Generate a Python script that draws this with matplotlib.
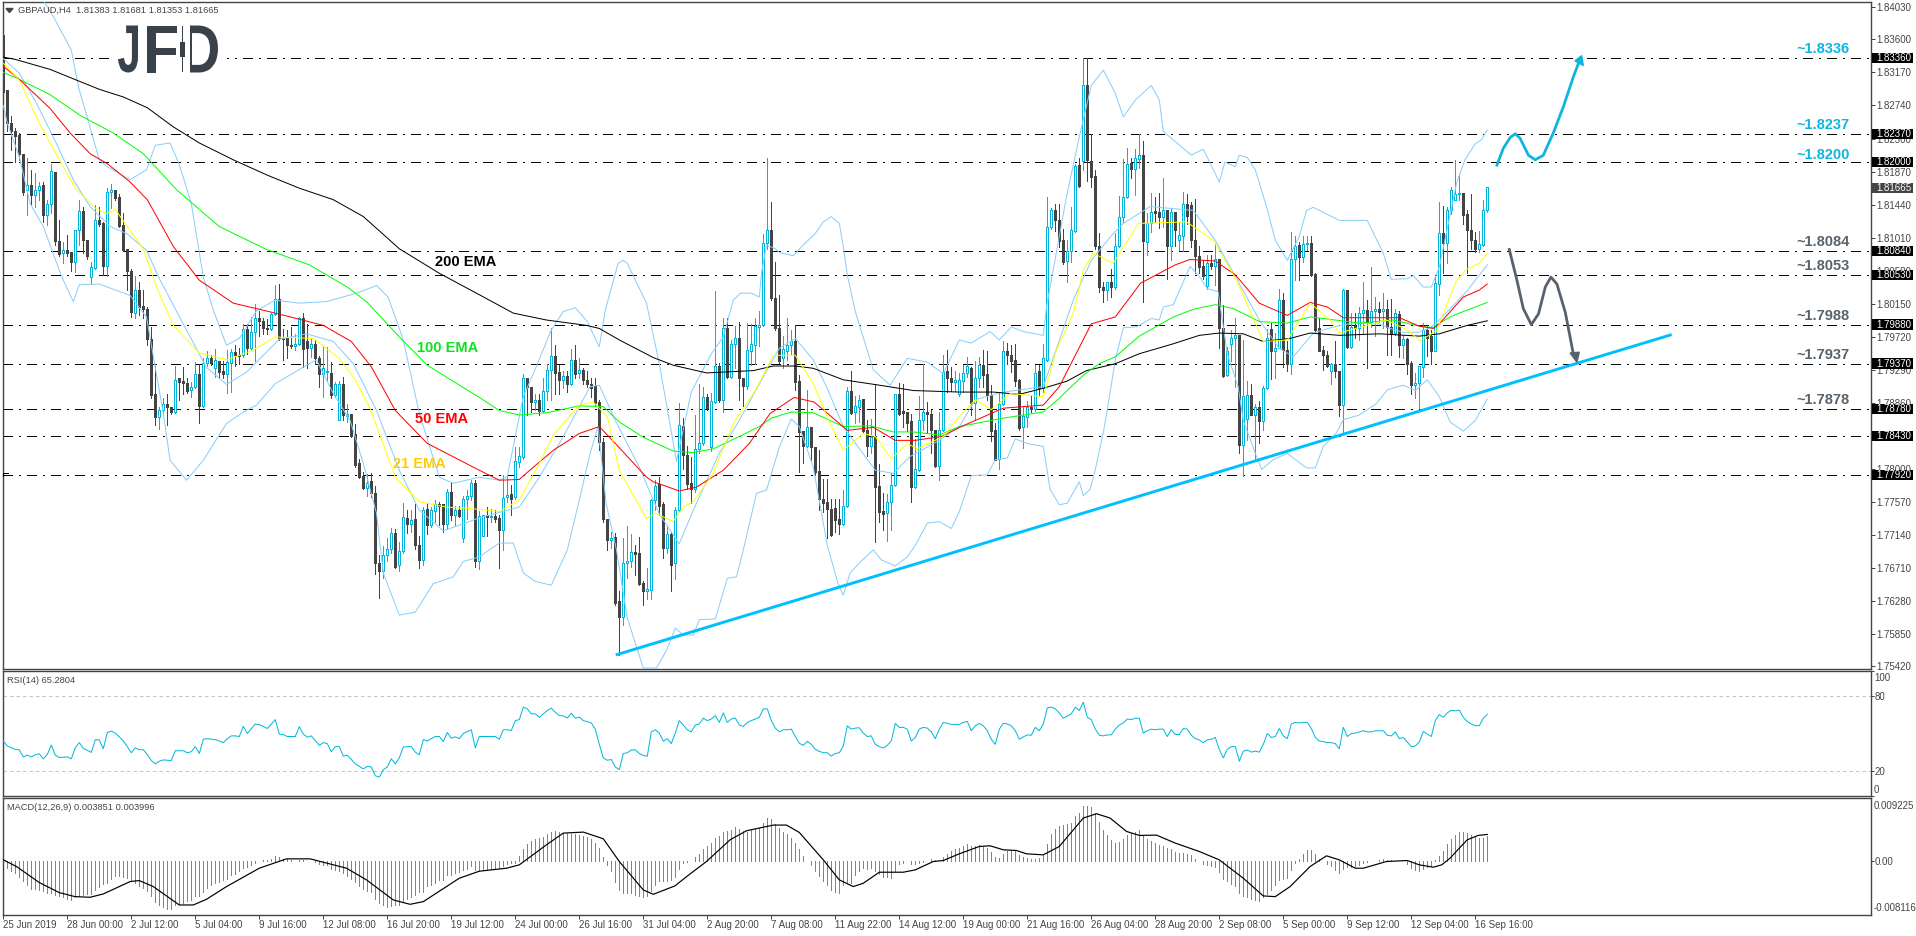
import numpy as np
import matplotlib
matplotlib.use("Agg")
import matplotlib.pyplot as plt
from matplotlib.font_manager import FontProperties
from matplotlib.patches import PathPatch, Polygon, Rectangle
from matplotlib.textpath import TextPath
from matplotlib.transforms import Affine2D

plt.rcParams['font.family'] = ['Liberation Sans', 'DejaVu Sans']

# all prices below are in pips (price * 10000)
opens = [
    18366,18294,18251,18240,18235,18211,18163,18170,18157,18164,
    18170,18131,18146,18187,18097,18081,18085,18083,18070,18111,
    18136,18098,18050,18062,18124,18120,18064,18161,18164,18154,
    18118,18086,18058,18003,18033,18012,18009,17969,17897,17867,
    17877,17884,17881,17874,17918,17914,17912,17903,17906,17923,
    17882,17938,17945,17932,17941,17928,17923,17938,17952,17949,
    17948,17982,17957,17979,17996,17993,17984,17982,18002,18021,
    17970,17970,17962,17960,17963,17996,17967,17957,17963,17945,
    17924,17926,17925,17896,17864,17910,17869,17872,17845,17807,
    17790,17775,17784,17768,17677,17666,17687,17695,17716,17674,
    17692,17736,17728,17734,17700,17681,17747,17726,17745,17754,
    17754,17728,17770,17739,17746,17710,17760,17764,17781,17680,
    17712,17739,17737,17738,17736,17720,17763,17767,17763,17809,
    17815,17919,17906,17887,17890,17875,17901,17929,17947,17926,
    17916,17921,17910,17942,17925,17929,17916,17911,17908,17887,
    17835,17734,17707,17711,17627,17606,17677,17679,17691,17690,
    17651,17640,17642,17759,17780,17754,17697,17715,17677,17746,
    17856,17818,17781,17773,17826,17833,17894,17828,17887,17934,
    17889,17983,17920,17963,17970,17919,17908,17954,17962,17985,
    17987,18094,18112,18023,17983,17944,17954,17961,17967,17914,
    17849,17829,17855,17828,17797,17761,17757,17748,17749,17734,
    17728,17751,17901,17874,17881,17891,17850,17830,17843,17777,
    17745,17742,17757,17779,17897,17875,17874,17862,17776,17798,
    17863,17874,17872,17850,17803,17850,17928,17919,17913,17897,
    17915,17925,17932,17886,17918,17935,17923,17896,17850,17813,
    17885,17953,17949,17942,17916,17854,17868,17881,17878,17927,
    17905,17942,18115,18138,18125,18098,18071,18084,18110,18196,
    18202,18300,18201,18182,18091,18037,18033,18043,18037,18090,
    18128,18154,18199,18191,18204,18209,18096,18121,18136,18135,
    18129,18137,18091,18135,18098,18103,18146,18144,18099,18077,
    18064,18038,18069,18064,18074,17983,17922,17963,17970,17975,
    17831,17865,17896,17870,17881,17862,17905,17982,17954,17958,
    18020,17955,17937,18074,18092,18076,18093,18095,18054,17983,
    17955,17949,17928,17937,17927,17883,18033,17959,17986,17983,
    18003,18007,17992,18006,18009,18006,18009,17985,17977,18002,
    17961,17969,17938,17909,17912,17933,17981,17973,17954,18041,
    18108,18095,18137,18151,18158,18160,18132,18112,18099,18086,
    18092,18138]
highs = [
    18370,18294,18260,18244,18238,18211,18205,18190,18186,18174,
    18174,18150,18197,18187,18124,18096,18105,18083,18111,18151,
    18142,18098,18070,18144,18141,18122,18166,18172,18164,18159,
    18133,18086,18060,18051,18044,18033,18011,17985,17934,17881,
    17892,17897,17881,17934,17919,17933,17918,17913,17939,17936,
    17945,17954,17949,17956,17941,17941,17955,17956,17962,17957,
    17989,17989,17998,18015,18006,17997,17995,18003,18040,18041,
    17982,17981,17985,17976,17998,18003,17989,17970,17968,17947,
    17960,17959,17939,17913,17914,17920,17884,17872,17858,17813,
    17796,17793,17794,17777,17687,17699,17710,17723,17721,17705,
    17755,17746,17746,17754,17712,17750,17755,17750,17759,17757,
    17754,17774,17783,17752,17752,17765,17772,17785,17785,17745,
    17740,17750,17748,17746,17739,17792,17792,17779,17828,17828,
    17924,17919,17906,17897,17898,17919,17937,17984,17962,17935,
    17928,17928,17956,17962,17945,17932,17928,17918,17919,17889,
    17840,17734,17718,17716,17640,17710,17725,17715,17700,17711,
    17653,17670,17761,17785,17789,17756,17725,17718,17750,17886,
    17866,17830,17815,17870,17911,17906,17897,17899,18032,17938,
    17996,17996,17968,17986,17992,17919,17990,17989,17996,18006,
    18106,18205,18148,18070,18026,17973,17997,17981,17988,17922,
    17849,17903,17855,17828,17825,17787,17786,17761,17760,17761,
    17772,17907,17928,17895,17896,17891,17864,17865,17911,17806,
    17768,17767,17795,17898,17912,17911,17874,17871,17839,17895,
    17937,17887,17876,17850,17874,17948,17955,17933,17928,17925,
    17935,17946,17933,17940,17946,17955,17954,17909,17860,17900,
    17966,17964,17961,17963,17917,17880,17888,17895,17935,17935,
    17963,18155,18140,18145,18146,18113,18098,18142,18198,18205,
    18336,18336,18237,18190,18107,18044,18044,18061,18108,18156,
    18204,18218,18205,18217,18237,18227,18133,18160,18155,18160,
    18179,18138,18140,18135,18122,18161,18158,18148,18152,18090,
    18072,18079,18079,18094,18074,18013,17959,17981,17997,17975,
    17968,17914,17911,17884,17888,17908,17982,17990,17977,18035,
    18029,17967,18109,18103,18096,18103,18104,18103,18055,17996,
    17960,17953,17938,17966,17928,18034,18033,18003,18003,18011,
    18044,18020,18063,18024,18018,18029,18020,18022,18009,18006,
    17974,17970,17940,17925,17934,17990,17987,17981,18050,18148,
    18143,18141,18167,18203,18185,18160,18137,18158,18109,18110,
    18151,18168]
lows = [
    18290,18240,18216,18200,18203,18157,18131,18145,18142,18151,
    18122,18118,18133,18092,18077,18068,18077,18058,18056,18092,
    18081,18073,18041,18061,18117,18053,18051,18140,18150,18116,
    18084,18033,17998,17996,18000,17996,17961,17892,17857,17852,
    17870,17857,17871,17873,17889,17898,17899,17894,17905,17859,
    17880,17934,17935,17920,17920,17919,17899,17900,17934,17937,
    17946,17950,17955,17940,17973,17976,17976,17981,18000,17968,
    17942,17945,17957,17955,17961,17933,17931,17946,17937,17907,
    17894,17916,17892,17894,17863,17864,17861,17842,17802,17788,
    17774,17764,17763,17663,17631,17657,17680,17690,17670,17667,
    17690,17716,17718,17695,17670,17675,17715,17724,17730,17726,
    17718,17722,17733,17726,17737,17705,17735,17759,17672,17669,
    17712,17712,17731,17731,17671,17694,17756,17739,17761,17802,
    17813,17870,17874,17876,17870,17874,17889,17889,17898,17897,
    17905,17900,17909,17918,17919,17911,17906,17893,17882,17824,
    17730,17694,17696,17622,17557,17596,17657,17672,17661,17648,
    17622,17630,17630,17746,17740,17683,17690,17640,17656,17744,
    17800,17774,17755,17770,17820,17831,17876,17823,17886,17887,
    17874,17918,17918,17932,17889,17882,17904,17935,17937,17960,
    17986,18086,18020,17981,17938,17932,17942,17950,17903,17796,
    17808,17828,17811,17792,17746,17744,17710,17712,17718,17715,
    17726,17750,17872,17859,17861,17848,17816,17820,17705,17731,
    17720,17706,17720,17778,17870,17855,17849,17757,17775,17797,
    17851,17846,17820,17802,17785,17849,17900,17902,17902,17895,
    17900,17920,17870,17863,17907,17907,17890,17836,17811,17800,
    17883,17937,17926,17908,17850,17827,17855,17874,17875,17896,
    17900,17941,18113,18110,18089,18067,18044,18070,18109,18168,
    18190,18175,18168,18086,18031,18017,18020,18024,18035,18089,
    18120,18153,18179,18157,18192,18017,18079,18109,18122,18114,
    18116,18047,18072,18090,18085,18084,18119,18089,18055,18055,
    18048,18035,18060,18040,17957,17920,17921,17940,17907,17820,
    17791,17837,17870,17812,17833,17851,17904,17917,17918,17957,
    17933,17927,17924,18046,18046,18070,18085,18051,17979,17953,
    17929,17933,17911,17920,17869,17847,17958,17958,17970,17968,
    17977,17932,17985,17973,17992,17983,17948,17948,17974,17946,
    17944,17924,17898,17892,17879,17920,17947,17937,17953,18026,
    18055,18068,18132,18150,18151,18119,18055,18086,18083,18083,
    18090,18135]
closes = [
    18292,18251,18240,18234,18211,18161,18170,18157,18164,18169,
    18131,18145,18188,18097,18080,18085,18082,18070,18111,18136,
    18098,18077,18063,18124,18119,18064,18161,18164,18153,18117,
    18085,18058,18005,18033,18011,18008,17969,17896,17867,17877,
    17884,17881,17874,17916,17913,17912,17902,17906,17923,17882,
    17938,17945,17938,17942,17926,17924,17939,17952,17948,17947,
    17982,17957,17979,17996,17993,17983,17982,18002,18021,17970,
    17969,17961,17960,17963,17997,17956,17957,17963,17945,17923,
    17932,17927,17896,17910,17910,17870,17871,17843,17805,17789,
    17775,17782,17768,17677,17666,17687,17695,17716,17672,17692,
    17737,17728,17733,17700,17681,17746,17726,17746,17754,17751,
    17728,17770,17739,17746,17738,17760,17764,17781,17680,17738,
    17739,17737,17738,17735,17720,17762,17766,17761,17810,17816,
    17919,17907,17887,17889,17875,17901,17929,17947,17925,17916,
    17921,17910,17942,17923,17929,17916,17911,17905,17886,17835,
    17734,17707,17710,17625,17606,17677,17679,17691,17689,17650,
    17640,17643,17759,17777,17752,17697,17715,17675,17746,17857,
    17818,17780,17773,17826,17834,17893,17879,17888,17934,17889,
    17983,17920,17963,17971,17919,17908,17955,17963,17986,17988,
    18094,18112,18023,17983,17940,17956,17962,17967,17913,17848,
    17829,17855,17828,17796,17760,17755,17747,17713,17733,17728,
    17752,17901,17873,17882,17889,17849,17830,17842,17776,17744,
    17741,17757,17779,17897,17871,17873,17859,17776,17799,17864,
    17874,17871,17850,17803,17851,17926,17918,17913,17916,17916,
    17925,17934,17886,17918,17935,17922,17896,17849,17812,17885,
    17954,17948,17941,17915,17853,17869,17880,17878,17925,17905,
    17944,18115,18137,18124,18097,18070,18084,18111,18195,18169,
    18300,18203,18180,18090,18037,18033,18044,18037,18090,18129,
    18154,18198,18191,18205,18209,18097,18121,18135,18134,18129,
    18137,18091,18135,18111,18105,18146,18130,18098,18077,18063,
    18051,18069,18064,18073,17983,17921,17954,17970,17975,17831,
    17895,17896,17870,17880,17862,17905,17970,17954,17958,18020,
    17955,17937,18074,18090,18076,18093,18095,18053,17981,17954,
    17948,17934,17937,17927,17883,18033,17959,17985,17983,18003,
    18007,17992,18006,18009,18005,18009,17985,17977,18003,17961,
    17969,17937,17909,17912,17934,17981,17971,17954,18042,18108,
    18094,18138,18164,18158,18160,18131,18111,18098,18086,18093,
    18138,18167]

# (bar, pips) vertices
ema200 = [(0,18337),(3,18334),(11.7,18321),(18.3,18307),(24,18295),(30,18285),(36,18271),(42.5,18246),(49,18225),
          (57.5,18203),(66,18183),(74,18166),(82.5,18151),(90,18129),(99,18087),(109,18055),(119,18027),(127.5,18003),
          (135.8,17994),(145.8,17987),(149,17983),(154,17968),(162.5,17945),(167.5,17935),(175.8,17925),(187.5,17928),
          (192.5,17934),(198,17934),(202.5,17931),(210,17916),(219,17909),(227.5,17902),(239,17900),(247.5,17900),
          (254,17897),(260,17905),(265.8,17914),(270.8,17928),(278,17937),(284,17950),(292.5,17963),(299,17974),
          (304,17977),(310,17976),(315,17966),(321.7,17970),(326.7,17977),(334,17974),(344,17976),(354,17973),
          (359,17976),(366,17987),(371,17993)]
ema100 = [(0,18317),(4,18308),(11.7,18288),(19.2,18261),(27.5,18238),(35,18211),(43.3,18164),(54,18116),(65.8,18086),
          (76.5,18066),(86,18037),(90.8,18018),(99,17972),(106,17935),(119,17893),(124,17876),(129,17870),(135.8,17873),
          (144,17882),(150,17881),(154,17861),(160,17841),(167.5,17823),(172.5,17821),(177.5,17826),(184,17842),
          (189,17855),(192,17866),(197,17874),(202.5,17873),(210,17855),(216.7,17856),(222.5,17848),(227.5,17848),
          (234,17844),(239,17855),(250,17866),(260,17874),(264,17892),(270,17922),(274,17937),(278,17946),(284,17973),
          (292.5,17998),(297.5,18008),(303,18014),(307.5,18009),(314,17992),(321,17990),(326.7,17998),(333,17994),
          (339,17990),(347.5,17994),(354,17986),(357.5,17984),(359,17990),(362.5,18000),(371,18017)]
ema50 = [(0,18325),(4,18308),(11.7,18270),(16.7,18238),(21.7,18211),(26,18198),(31.7,18174),(36,18151),(42.5,18090),
         (49,18046),(57.5,18016),(68,18003),(80,17987),(87,17966),(92,17933),(98,17876),(106,17833),(119,17798),
         (124,17785),(129,17786),(132.5,17802),(137.5,17824),(144,17846),(149,17855),(153,17833),(160.8,17789),
         (162.5,17783),(169,17771),(173.3,17776),(180,17798),(186.5,17833),(191.7,17872),(197.7,17893),(202.7,17887),
         (207,17868),(211,17850),(217.5,17854),(223,17837),(228,17837),(234.5,17842),(239.5,17855),(250,17879),
         (260,17883),(264,17907),(272,17989),(278,17998),(284.3,18042),(293,18066),(296.7,18073),(303,18071),
         (308,18053),(314,18016),(321,18000),(326.7,18017),(331,18011),(335,17997),(349,17997),(354,17986),
         (357.5,17983),(359,17989),(365,18024),(369,18033),(371,18041)]
ema21 = [(0,18329),(4,18307),(9,18251),(14,18203),(18,18166),(23,18140),(25.8,18133),(28,18138),(35,18087),(38.3,18037),
         (42.5,17987),(49,17951),(56,17942),(62.5,17955),(68,17972),(77.5,17970),(84,17944),(88,17916),(91.7,17879),
         (98,17789),(104,17757),(110.8,17750),(119,17747),(124,17744),(129,17759),(134,17807),(137.5,17844),(144,17883),
         (147.5,17887),(151,17868),(154,17798),(160.8,17735),(163,17742),(167.5,17731),(170,17750),(172.5,17757),
         (177.5,17794),(182.5,17859),(188,17902),(192.5,17948),(198,17948),(202.5,17911),(206.7,17859),(210,17824),
         (215,17846),(218,17842),(222,17813),(226,17833),(228.5,17826),(235,17842),(239,17868),(243,17890),(247,17877),
         (251.7,17898),(260,17894),(263.3,17955),(267.5,18003),(270,18059),(272.5,18081),(277.5,18068),(283.8,18120),
         (295.8,18122),(302.5,18098),(308.3,18046),(315,17966),(321,17968),(326.7,18016),(331.7,17994),(334,17977),
         (336.7,17981),(345.8,17994),(351,17981),(354.2,17967),(358.3,17980),(363.3,18046),(365.8,18060),(369,18068),
         (371,18081)]
bb_upper = [(9,18418),(10,18411),(12.5,18390),(17,18346),(18.8,18298),(24,18203),(26,18194),(31.7,18177),(35.8,18190),
            (38,18222),(41.7,18225),(44,18197),(47,18146),(50,18050),(52.5,18007),(55.8,17961),(59,17970),(63.3,18006),
            (68,18020),(74,18016),(80.8,18018),(88.3,18029),(93.3,18039),(96.2,18024),(100,17968),(104,17872),(109,17789),
            (112.5,17781),(119,17789),(124,17785),(126,17790),(130,17894),(132.5,17924),(137,17981),(140,18005),(143,18010),
            (146,17992),(149,17959),(150.5,18007),(153.7,18068),(155,18072),(156,18068),(158,18046),(160.8,18016),(164,17937),
            (168.3,17810),(172,17900),(177,17950),(180,17972),(182.5,18020),(184.3,18029),(187,18029),(189,18024),
            (189.6,18057),(190.8,18092),(193,18087),(194,18082),(197.5,18078),(200,18092),(203,18107),(205,18122),(207,18129),
            (209,18120),(210,18090),(211,18053),(213,18005),(217.5,17929),(221.7,17909),(226,17944),(231,17939),(235,17924),
            (239,17968),(242,17964),(246.7,17979),(249,17968),(252,17985),(255,17979),(260,17974),(260.8,18011),(265.8,18155),
            (269,18233),(272,18300),(275,18320),(278,18290),(280,18259),(283,18281),(287,18300),(289,18281),(290,18240),
            (292.5,18229),(297,18209),(300,18217),(304,18174),(305.4,18200),(308,18194),(309,18209),(311,18206),(313,18190),
            (315.8,18142),(318,18098),(321,18072),(324,18103),(325.8,18137),(327.5,18141),(334,18124),(341,18124),(345,18081),
            (347,18047),(351,18048),(352.5,18052),(355,18037),(357,18037),(359,18063),(363.3,18172),(365.4,18203),(368,18224),
            (369.5,18229),(371,18242)]
bb_mid = [(0,18335),(4,18316),(8.3,18277),(13.3,18224),(17.5,18177),(21.7,18142),(26.7,18116),(30.8,18107),(35.8,18085),
          (39,18048),(45.8,17981),(50.8,17932),(55.8,17910),(60.8,17926),(69,17969),(75.8,17976),(82.5,17966),(87.5,17937),
          (93.3,17876),(99,17798),(104,17746),(110,17719),(115,17728),(119,17736),(129,17750),(134,17789),(140,17842),
          (146.7,17907),(149,17909),(153,17863),(159,17802),(164,17741),(169,17702),(172.5,17746),(179,17820),(184,17863),
          (190,17920),(194,17957),(198,17970),(202.5,17942),(205.8,17907),(210,17855),(212.5,17837),(218,17798),(222.5,17794),
          (226.7,17816),(234,17837),(239,17855),(243,17890),(250,17900),(260,17907),(267.5,18020),(272,18072),(277.5,18107),
          (280,18120),(286.7,18142),(297.5,18137),(303,18098),(308,18051),(314,17994),(319,17957),(322.5,17946),(327.5,17977),
          (332.5,17985),(337.5,17990),(344,17989),(346.7,17983),(350,17978),(354,17978),(357,17985),(359,17994),(365.8,18031),
          (371,18066)]
bb_lower = [(0,18274),(1,18251),(4,18207),(6.7,18146),(10,18116),(14,18059),(15,18046),(17.5,18018),(19,18040),(24,18041),
            (31.7,18026),(35.8,17998),(40,17872),(41.7,17811),(45.8,17785),(50,17811),(55.8,17859),(60,17874),(63.3,17883),
            (68,17911),(75.8,17935),(78.3,17942),(82.5,17898),(86.7,17863),(90,17807),(93.3,17742),(95,17664),(99,17609),
            (103,17613),(107.5,17650),(112.5,17659),(115,17679),(119,17685),(124,17703),(127.5,17703),(130,17664),(133,17653),
            (137,17648),(141,17694),(144,17759),(146.7,17820),(148.7,17855),(150.7,17755),(153.3,17694),(156,17605),(160,17540),
            (163.3,17540),(165.8,17563),(168,17592),(170,17583),(172.5,17583),(174,17603),(178,17604),(181,17657),(183.3,17659),
            (185,17694),(188.3,17768),(190.8,17772),(194,17828),(197,17865),(199,17855),(202.5,17802),(206,17700),(208.7,17650),
            (210,17635),(211.7,17664),(214,17677),(217.5,17694),(219.5,17681),(223,17673),(226,17685),(228,17700),(231,17729),
            (234,17731),(237,17722),(239,17744),(242,17791),(246,17792),(248,17812),(251,17814),(253,17839),(256,17833),
            (260,17829),(261.7,17773),(264,17753),(266,17755),(269,17783),(270,17765),(271.7,17773),(273,17799),(275,17847),
            (276,17877),(278,17942),(280,17984),(283.3,17985),(287,17996),(289,17994),(290,18011),(292.5,18014),(296.7,18064),
            (299,18051),(301,18035),(303.7,18031),(306,17950),(308.7,17907),(310,17863),(313,17820),(314.6,17799),(317.5,17812),
            (321,17820),(325.8,17801),(328,17801),(330,17829),(333.3,17847),(335,17864),(339,17870),(343.3,17885),(346,17903),
            (350,17909),(353,17902),(356,17916),(359,17894),(361.7,17861),(365,17849),(368,17863),(371,17891)]

rsi = [
    44,40,38.6,37.3,36.8,31.3,32.7,31.3,33,33.8,
    29.7,33.2,40.8,32.7,30.8,31,31.3,29.7,38.6,42.7,
    38.1,36.5,34.9,45.1,44.9,37.8,50.8,51.9,50.3,47.3,
    44,39.5,34.6,38.6,37,37,33.2,28.4,25.7,27.8,
    28.9,28.6,28.4,36.2,36.2,36.2,34.6,35.4,39.5,34,
    45.4,45.9,45.4,45.1,44,42.7,45.9,48.1,48.1,47.6,
    55.7,50,53.8,57.6,57,55.7,54,57.6,61.1,49.5,
    49.2,47.6,47.6,47.6,55.4,49.5,47,48.1,44.3,40.5,
    42.7,41.9,35.4,39.5,39.5,31.9,32.7,29.2,25.7,23.8,
    21.6,23.8,23.2,16.2,15.1,21.1,23.2,29.7,25.7,30.5,
    39.2,39.5,39.5,35.1,33,45.1,44,45.9,47.6,47.6,
    43.5,50.8,46.2,47.3,45.9,50,51.6,53,38.6,47.6,
    47.6,47.6,47.6,47.6,45.4,53,53,52.4,60.3,61.1,
    71.1,69.7,65.7,65.7,63,65.7,68.4,70.3,67,64.3,
    64.1,62.4,66.2,62.2,63.2,60.3,59.5,58.4,53.5,41.3,
    30.5,28.6,29.2,23.2,21.1,34,34.6,36.8,37,34,
    32.4,31.9,51.3,53,50.3,43.8,45.9,41.9,50.3,60.3,
    56.8,53,51.3,56.8,57.6,62.2,60.3,61.6,64.3,58.9,
    66.5,58.9,61.6,62.4,56.8,55.7,58.9,60.3,61.6,63,
    69.7,69.7,60.3,54.3,51.3,53,53,53.5,47.6,42.2,
    40.5,43.8,41.3,37.3,35.7,34.6,34.6,31.9,34,34.6,
    40,56.2,53.5,54.3,54.6,50.3,47.6,48.1,41.3,39.5,
    38.4,40.5,44,58.1,54.9,54.9,53.5,44,46.8,53.5,
    54.9,54.3,51.3,45.9,53.5,58.9,58.1,57.3,57.3,57.3,
    58.9,59.7,52.2,56.2,58.1,56.2,52.2,45.4,41.3,53.5,
    58.1,57.6,56.2,52.2,45.4,47.3,48.9,48.6,54.9,52.2,
    57.6,70.5,71.1,69.7,66.5,62.2,63.8,65.7,71.1,68.4,
    75.1,63,61.1,53.5,48.6,48.1,48.9,48.9,53.5,56.8,
    58.4,61.6,61.1,62.2,62.2,50.3,52.2,53.5,53,53.5,
    53.5,47.6,53,49.2,49.2,54,53.5,48.6,45.9,44.9,
    42.7,44.9,45.4,46.8,37.3,30.5,37.3,39.5,39.5,27.8,
    35.9,36.8,35.1,35.9,35.1,41.3,50,46.8,47.6,54,
    48.1,45.9,57.6,58.9,58.4,58.9,58.9,54,46.8,44,
    43.5,42.7,42.7,41.9,37.8,54.9,47.6,50,50.3,51.3,
    52.2,51.3,51.3,52.2,52.2,52.2,48.6,48.1,51.3,45.9,
    46.8,43.2,39.5,40,43.2,51.6,49.5,47.6,60.3,65.1,
    63,66.5,68.6,68.1,68.6,63,59.5,57.6,56.2,56.2,
    62.2,65.3]

# MACD in units of 0.0001
macd_hist = [
    -4,-10,-14,-17.5,-24,-30,-35,-41,-42,-43.5,
    -45,-47.5,-47.5,-50,-52.5,-54,-56,-57.5,-54,-52.5,
    -51,-49,-49,-42.5,-39,-34,-32.5,-26,-22.5,-22,
    -23,-25,-30,-32.5,-37.5,-40,-45,-52.5,-61,-66,
    -69,-71,-71,-66,-64,-62.5,-59,-57.5,-52.5,-52.5,
    -46,-40,-36,-32.5,-31,-27.5,-26,-20,-19,-14,
    -10,-9,-5,-2.5,0,2,2,4,7.5,6,
    4,3,2,1,2,2,1,0,-1,-4,
    -5,-6,-11,-12.5,-15,-17.5,-22.5,-26,-31,-37.5,
    -41,-44,-46,-56,-62.5,-65,-68,-67.5,-66,-66,
    -60,-56,-54,-50,-46,-46,-37.5,-36,-32.5,-27.5,
    -27.5,-21,-20,-17.5,-16,-12.5,-11,-7.5,-12.5,-15,
    -11,-11,-11,-11,-10,-7.5,-4,-3,-2,7.5,
    17.5,25,30,32.5,35,36,41,44,45,44,
    42.5,42.5,41,40,39,38,36,32.5,27.5,20,
    6,-5,-15,-31,-42.5,-47.5,-48,-48,-50,-52,
    -53,-52.5,-45,-36,-30,-29,-29,-28,-24,-11,
    -3,-1,0,6,10,18,22.5,27.5,35,37.5,
    44,45,46,51,47.5,45,44,46,47.5,50,
    57.5,65,62.5,55,50,44,40,35,27.5,17.5,
    7.5,0,-5,-14,-22.5,-29,-36,-42.5,-46,-48,
    -35,-31,-32.5,-20,-15,-10,-11,-10,-14,-19,
    -23,-24,-25,-14,-4,-2.5,0,-4,-4,-2,
    -1,1,3,2,0,7,11,15,18,20,
    22,25,22,22,24,21,20,14,7,5,
    11,15,16,16,9,6,5,4,4,5,
    9,25,40,47.5,52.5,54,56,57.5,67.5,72.5,
    82.5,82.5,81,72.5,59,46,39,31,27.5,29,
    32.5,39,42.5,44,46,39,32.5,30,27.5,24,
    22.5,19,17.5,14,12,12.5,11,9,4,0,
    -4,-6,-7,-9,-16,-26,-29,-34,-37.5,-47.5,
    -52.5,-54,-56,-57.5,-59,-54,-49,-42.5,-36,-27.5,
    -26,-25,-13,-2.5,3,11,16,17,11,4,
    0,-4,-7.5,-13,-17.5,-11,-9,-9,-7,-5,
    -2,-1,0,0.5,2,3,2,1.5,1,0,
    0,-4,-10,-13,-14,-11,-8,-7,2,7.5,
    15,25,33,39,44,44,42,39,36,34,
    35,38]
macd_signal = [(0,2),(3.3,-8),(9,-32),(14,-47),(17.9,-53),(21.7,-54),(25,-49),(31.7,-30.5),(34,-29),(37.5,-38),(44,-65.5),
               (47.5,-65.5),(50.8,-57),(55.8,-38),(64,-10.5),(70.8,3.5),(76.7,3.5),(85.8,-10.5),(90.8,-28),(97.5,-58),
               (101.7,-64.5),(105,-60.5),(114,-25.5),(119,-15),(125.8,-10.5),(129,-5.5),(135.8,24.5),(140,42),(145,43.5),
               (150,33.5),(154,-0.5),(160,-43),(162.5,-49.5),(167.9,-37),(171.7,-19),(175.8,-0.5),(181.7,32),(185.8,45.5),
               (192.5,54),(195.8,54),(199,43),(205,2),(209,-28),(212.5,-38),(215,-33),(219,-16.5),(225,-16.5),(228,-13),
               (232.5,-0.5),(235,1),(239,11),(244,22),(246.7,23),(250,17),(253.3,16),(255.8,11),(260,9.5),(264,22),
               (270,64.5),(273.3,71),(276.7,64.5),(280.8,44.5),(284,38.5),(288.3,39),(293,27),(299,14.5),(304,2),
               (310,-25.5),(315,-52),(318,-53),(321.7,-38),(326.7,-8),(330.8,8),(334,2),(338,-10.5),(340,-10.5),
               (345.8,-0.5),(351,1),(354,-5.5),(357.5,-9),(359.6,-5.5),(361.7,4.5),(364,19.5),(366,32),(368.7,38.5),(371,40)]

level_prices = [18336, 18237, 18200, 18084, 18053, 17988, 17937, 17878, 17843, 17792]
level_texts = ['~1.8336', '~1.8237', '~1.8200', '~1.8084', '~1.8053', '~1.7988', '~1.7937', '~1.7878']
price_ticks = [18403, 18360, 18317, 18274, 18230, 18187, 18144, 18101, 18058, 18015, 17972, 17929, 17886, 17843,
               17800, 17757, 17714, 17671, 17628, 17585, 17542]
date_labels = ['25 Jun 2019', '28 Jun 00:00', '2 Jul 12:00', '5 Jul 04:00', '9 Jul 16:00', '12 Jul 08:00', '16 Jul 20:00',
               '19 Jul 12:00', '24 Jul 00:00', '26 Jul 16:00', '31 Jul 04:00', '2 Aug 20:00', '7 Aug 08:00', '11 Aug 22:00',
               '14 Aug 12:00', '19 Aug 00:00', '21 Aug 16:00', '26 Aug 04:00', '28 Aug 20:00', '2 Sep 08:00', '5 Sep 00:00',
               '9 Sep 12:00', '12 Sep 04:00', '16 Sep 16:00']
trend_line = [(153.1, 17557), (417.1, 17975)]
up_path = [(373.4,18196),(375,18218),(376.7,18232),(378,18237),(379.2,18231),(381.3,18209),(383,18203),(385,18209),
           (387.5,18238),(390,18272),(392.5,18311),(393.8,18329)]
up_head = [(394.6,18339),(392.9,18332),(395,18326)]
down_path = [(376.5,18086),(378.4,18046),(380,18009),(382,17988),(383.8,18002),(385.5,18037),(386.9,18050),(388.4,18041),
             (390.5,18004),(392.5,17950)]
down_head = [(393.4,17939),(391.7,17951),(394,17952)]

W, H = 1916, 936
BULL = '#00B4DC'
BEAR = '#444444'
BAND = '#87CEFA'
BLUE_TXT = '#0FB5DC'
GREY_TXT = '#58626C'
AXIS = '#444444'
PX = 0.72


def pane(top, bottom):
    # axes from pixel rows of the screenshot
    left, right = 2.7, 1870.7
    a = fig.add_axes([left / W, 1 - bottom / H, (right - left) / W, (bottom - top) / H])
    a.set_xlim(-0.15, 466.85)
    for s in a.spines.values():
        s.set_color(AXIS)
        s.set_linewidth(1.0)
    a.yaxis.tick_right()
    a.tick_params(axis='y', length=2.9, width=PX, color=AXIS, labelsize=7, labelcolor='#444444', pad=1.5)
    a.set_xticks([])
    return a


def to_price(pts):
    arr = np.array(pts, dtype=float)
    return arr[:, 0], arr[:, 1] / 1e4


fig = plt.figure(figsize=(W / 100, H / 100), dpi=100)
ax = pane(2, 669)
ax_rsi = pane(671, 796)
ax_macd = pane(798, 915)

bars = np.arange(len(closes))
o, h, l, c = [np.array(v) / 1e4 for v in (opens, highs, lows, closes)]
up = c >= o

# candles
ax.vlines(bars[~up], l[~up], h[~up], color=BEAR, lw=PX, antialiased=False, zorder=2)
ax.vlines(bars[up], l[up], h[up], color=BULL, lw=PX, antialiased=False, zorder=2)
ax.bar(bars[~up], np.maximum(o - c, 0.00003)[~up], bottom=c[~up], width=0.55, color=BEAR, edgecolor=BEAR, lw=PX,
       antialiased=False, zorder=2.2)
ax.bar(bars[up], np.maximum(c - o, 0.00003)[up], bottom=o[up], width=0.55, color='white', edgecolor=BULL, lw=PX,
       antialiased=False, zorder=2.2)

# levels
for p in level_prices:
    ax.axhline(p / 1e4, color='black', lw=PX, ls=(0, (9.5, 6.5, 1.5, 6.5)), antialiased=False, zorder=1)

# bands and averages
for pts in (bb_upper, bb_mid, bb_lower):
    ax.plot(*to_price(pts), color=BAND, lw=PX, zorder=2.6)
for pts, col in ((ema200, 'black'), (ema100, '#00FF00'), (ema50, '#FF0000'), (ema21, '#FFFF00')):
    ax.plot(*to_price(pts), color=col, lw=PX, zorder=2.8)

# trend line and the two scenario arrows
ax.plot(*to_price(trend_line), color='#00BFFF', lw=2.1, solid_capstyle='butt', zorder=3)
ax.plot(*to_price(up_path), color=BLUE_TXT, lw=2.0, zorder=3.2)
ax.add_patch(Polygon(np.column_stack(to_price(up_head)), color=BLUE_TXT, zorder=3.2))
ax.plot(*to_price(down_path), color=GREY_TXT, lw=2.0, zorder=3.2)
ax.add_patch(Polygon(np.column_stack(to_price(down_head)), color=GREY_TXT, zorder=3.2))

ax.set_ylim(1.75387, 1.84089)
ax.set_yticks(np.array(price_ticks) / 1e4)
ax.set_yticklabels(['%.5f' % (p / 1e4) for p in price_ticks])

# black price boxes on the axis
trans = ax.get_yaxis_transform()
for p, col in [(q, 'black') for q in level_prices] + [(18166.5, '#444444')]:
    ax.add_patch(Rectangle((1.0009, p / 1e4 - 0.00068), 0.0216, 0.00136, transform=trans, facecolor=col,
                           edgecolor='none', clip_on=False, zorder=5))
    ax.text(1.0032, p / 1e4 - 0.00003, '%.5f' % (p / 1e4), transform=trans, color='white', fontsize=7, va='center',
            ha='left', clip_on=False, zorder=6)

# RSI
ax_rsi.plot(bars, rsi, color='#00B8DC', lw=PX, zorder=3)
for v in (80, 20):
    ax_rsi.axhline(v, color='#C4C4C4', lw=PX, ls=(0, (3.5, 3)), zorder=1)
ax_rsi.set_ylim(0, 100)
ax_rsi.set_yticks([80, 20, 100, 0])
ax_rsi.set_yticklabels(['80', '20', '', ''])
ax_rsi.tick_params(axis='y', length=2, pad=0.5)

# MACD
ax_macd.vlines(bars, 0, np.array(macd_hist) / 1e4, color='#1FA8CC', lw=PX, antialiased=False, zorder=2)
ax_macd.plot(*to_price(macd_signal), color='black', lw=PX * 1.2, zorder=3)
ax_macd.set_ylim(-0.00805, 0.00945)
ax_macd.set_yticks([0.0])
ax_macd.set_yticklabels(['0.00'])
ax_macd.set_xticks(np.arange(0, len(closes), 16))
ax_macd.set_xticklabels(date_labels, ha='left')
ax_macd.tick_params(axis='y', length=2, pad=0.5)
ax_macd.tick_params(axis='x', length=2.9, width=PX, color=AXIS, labelsize=7, labelcolor='#444444', pad=0.5)

# screenshot level texts live in pixel space
over = fig.add_axes([0, 0, 1, 1], facecolor='none', zorder=10)
over.set_xlim(0, W)
over.set_ylim(H, 0)
over.axis('off')

over.text(18, 10.8, 'GBPAUD,H4  1.81383 1.81681 1.81353 1.81665', fontsize=6.7, color='#444444', va='center')
over.add_patch(Polygon([(6, 8.5), (13, 8.5), (9.5, 12.5)], color='#444444'))
over.text(7, 680.7, 'RSI(14) 65.2804', fontsize=6.7, color='#444444', va='center')
over.text(7, 807.7, 'MACD(12,26,9) 0.003851 0.003996', fontsize=6.7, color='#444444', va='center')
for txt, y in (('100', 678.3), ('0', 789.7), ('0.009225', 805.7), ('-0.008116', 908.3)):
    over.text(1874, y, txt, fontsize=7, color='#444444', va='center')
over.plot([3.5, 3.5, 8], [476, 473, 473], color='black', lw=PX)

ema_labels = [('200 EMA', 435, 262, 'black'), ('100 EMA', 417, 348, '#10E020'), ('50 EMA', 415, 419, '#FF0000'),
              ('21 EMA', 393, 464, '#FFCC00')]
for txt, x, y, col in ema_labels:
    over.text(x, y, txt, fontsize=10.5, fontweight='bold', color=col, va='center')
level_rows = [49, 125, 155, 241.7, 266, 316, 355, 400]
level_cols = [BLUE_TXT] * 3 + [GREY_TXT] * 5
for txt, y, col in zip(level_texts, level_rows, level_cols):
    over.text(1796, y, txt, fontsize=10.5, fontweight='bold', color=col, va='center')

# JFD logo on a white patch that cuts the top level line
over.add_patch(Rectangle((109, 20), 118, 58, facecolor='white', edgecolor='none'))
logo_font = FontProperties(family='Liberation Sans', weight='bold')
for ch, x0, x1 in (('J', 118, 138), ('F', 147, 177), ('D', 184, 218)):
    tp = TextPath((0, 0), ch, size=1, prop=logo_font)
    ext = tp.get_extents()
    tf = Affine2D().translate(-ext.x0, -ext.y0).scale((x1 - x0) / ext.width, -47 / ext.height).translate(x0, 72.5)
    over.add_patch(PathPatch(tp.transformed(tf), facecolor='#39414B', edgecolor='none'))
over.add_patch(Rectangle((182, 24), 8, 50, facecolor='white', edgecolor='none'))
over.add_patch(Rectangle((180.5, 41.5), 5, 15, facecolor='#39414B', edgecolor='none'))
over.add_patch(Rectangle((182.5, 26), 1, 46, facecolor='#39414B', edgecolor='none'))

fig.savefig('out.png', dpi=100, facecolor='white')
